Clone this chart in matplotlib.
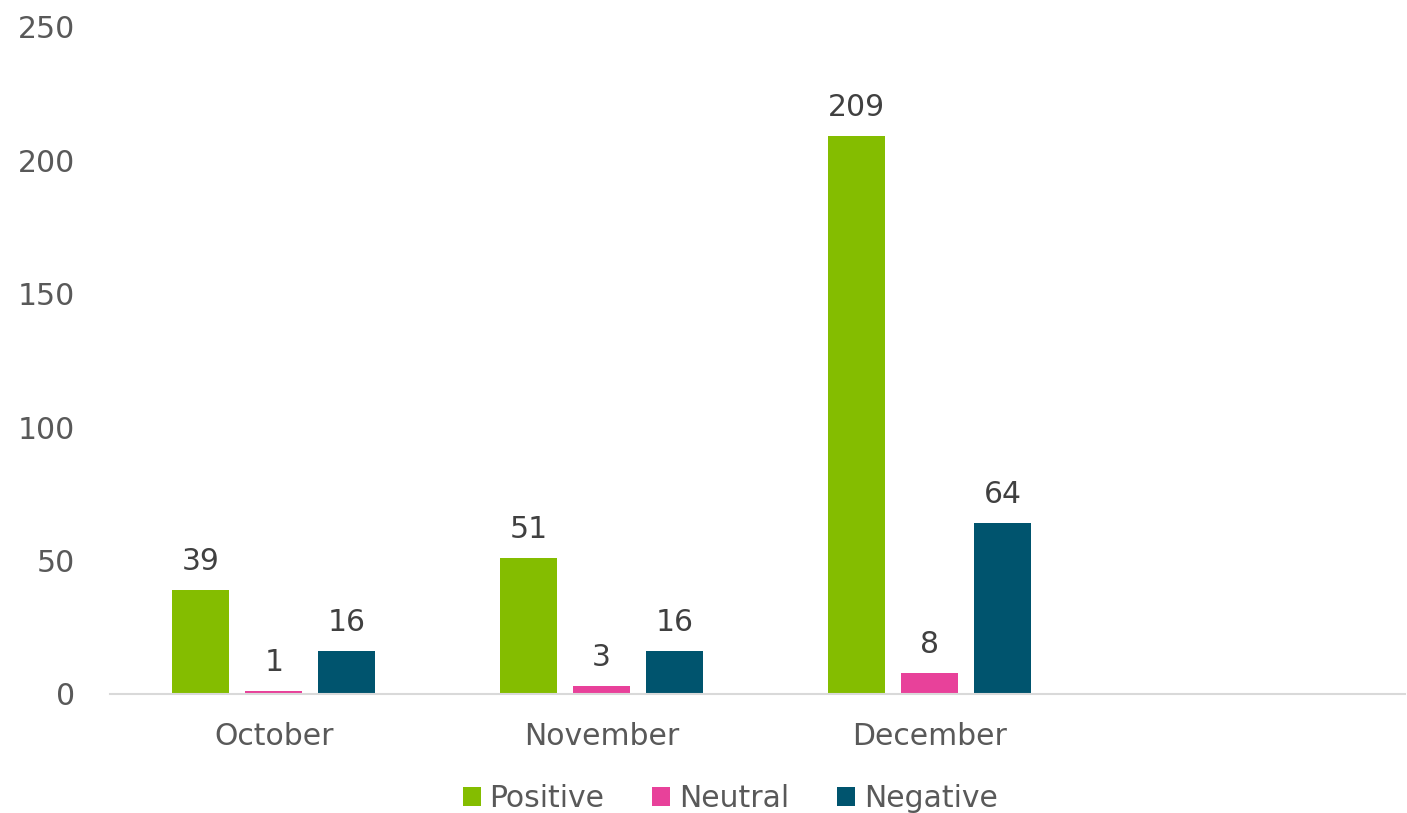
import matplotlib.pyplot as plt
import numpy as np

months = ['October', 'November', 'December', '']
positive = [39, 51, 209]
neutral = [1, 3, 8]
negative = [16, 16, 64]
series_names = ['Positive', 'Neutral', 'Negative']
colors = ['#84BD00', '#E8419A', '#00546E']


def main():
    fig = plt.figure(figsize=(14.07, 8.13), dpi=100)
    ax = fig.add_axes([0.078, 0.1464, 0.9206, 0.8204])

    x = np.arange(3)
    width = 0.174
    offset = 0.2226
    series = [positive, neutral, negative]
    for i, (vals, name, c) in enumerate(zip(series, series_names, colors)):
        bars = ax.bar(x + (i - 1) * offset, vals, width, color=c, label=name)
        ax.bar_label(bars, padding=10, fontsize=21.5, color='#404040')

    ax.set_xlim(-0.5, 3.45)
    ax.set_ylim(0, 250)
    ax.set_yticks([0, 50, 100, 150, 200, 250])
    ax.set_xticks(np.arange(4))
    ax.set_xticklabels(months)
    ax.tick_params(axis='both', length=0, labelsize=21.5, labelcolor='#595959')
    ax.tick_params(axis='y', pad=25)
    ax.tick_params(axis='x', pad=20)
    for s in ['top', 'right', 'left']:
        ax.spines[s].set_visible(False)
    ax.spines['bottom'].set_color('#D9D9D9')
    ax.spines['bottom'].set_linewidth(1.5)

    leg = fig.legend(loc='lower center', bbox_to_anchor=(0.519, -0.033), ncol=3,
                     frameon=False, fontsize=21.5, handlelength=0.6,
                     handleheight=0.6, handletextpad=0.3, columnspacing=1.6)
    for t in leg.get_texts():
        t.set_color('#595959')

    fig.savefig('out.png', dpi=100)


if __name__ == '__main__':
    main()
